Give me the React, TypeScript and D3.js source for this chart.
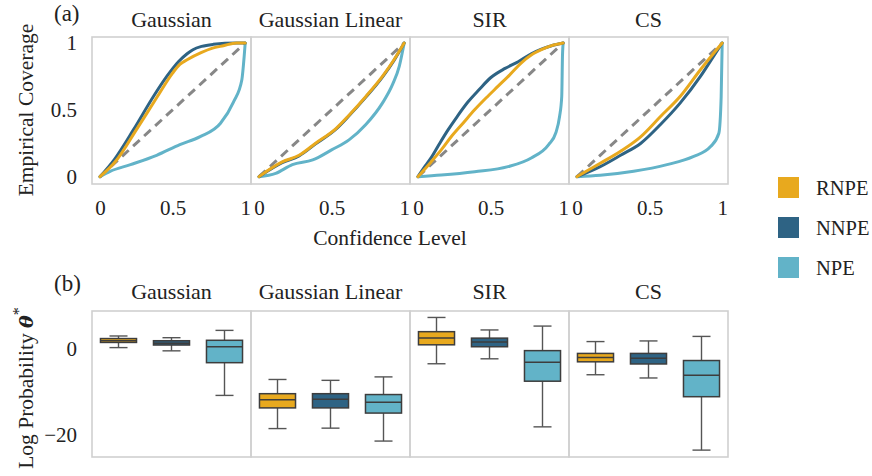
import React, { useEffect, useRef } from 'react';
import * as d3 from 'd3';

const panels = ['Gaussian', 'Gaussian Linear', 'SIR', 'CS'];
const methods = ['RNPE', 'NNPE', 'NPE'];
const methodColors = ['#E8A91E', '#2E6384', '#62B3C8'];

// coverage curves: [confidence level, empirical coverage]
const gaussianRNPE = [[0, 0], [0.115, 0.125], [0.25, 0.35], [0.39, 0.59], [0.5, 0.775], [0.55, 0.84], [0.6, 0.875], [0.7, 0.93], [0.77, 0.96], [0.85, 0.98], [0.94, 1], [1, 1]];
const gaussianNNPE = [[0, 0], [0.1, 0.13], [0.23, 0.35], [0.368, 0.6], [0.46, 0.75], [0.54, 0.86], [0.6, 0.92], [0.64, 0.95], [0.7, 0.975], [0.78, 0.99], [0.94, 1], [1, 1]];
const gaussianNPE = [[0, 0], [0.07, 0.04], [0.21, 0.09], [0.39, 0.16], [0.55, 0.24], [0.69, 0.3], [0.83, 0.4], [0.92, 0.56], [0.977, 0.725], [0.993, 0.9], [1, 1]];

const linearRNPE = [[0, 0], [0.16, 0.11], [0.276, 0.16], [0.39, 0.25], [0.53, 0.36], [0.62, 0.46], [0.736, 0.6], [0.85, 0.75], [0.93, 0.875], [1, 1]];
const linearNNPE = [[0, 0], [0.16, 0.105], [0.276, 0.155], [0.39, 0.245], [0.53, 0.355], [0.62, 0.455], [0.736, 0.595], [0.85, 0.745], [0.93, 0.87], [1, 1]];
const linearNPE = [[0, 0], [0.115, 0.025], [0.23, 0.09], [0.37, 0.125], [0.5, 0.2], [0.62, 0.275], [0.736, 0.39], [0.85, 0.55], [0.92, 0.69], [0.966, 0.825], [1, 1]];

const sirRNPE = [[0, 0], [0.09, 0.11], [0.16, 0.2], [0.23, 0.3], [0.31, 0.4], [0.39, 0.5], [0.47, 0.59], [0.55, 0.675], [0.63, 0.76], [0.71, 0.85], [0.78, 0.91], [0.85, 0.95], [0.92, 0.98], [1, 1]];
const sirNNPE = [[0, 0], [0.05, 0.08], [0.09, 0.14], [0.15, 0.25], [0.207, 0.35], [0.27, 0.45], [0.345, 0.56], [0.42, 0.65], [0.5, 0.74], [0.6, 0.81], [0.69, 0.86], [0.78, 0.92], [0.85, 0.955], [0.92, 0.98], [1, 1]];
const sirNPE = [[0, 0], [0.16, 0.0125], [0.39, 0.0375], [0.62, 0.075], [0.78, 0.14], [0.9, 0.24], [0.95, 0.33], [0.975, 0.45], [0.99, 0.6], [0.995, 0.9], [1, 1]];

const csRNPE = [[0, 0], [0.16, 0.1], [0.3, 0.19], [0.44, 0.3], [0.575, 0.45], [0.71, 0.6], [0.85, 0.8], [1, 1]];
const csNNPE = [[0, 0], [0.16, 0.075], [0.3, 0.16], [0.44, 0.25], [0.575, 0.39], [0.71, 0.55], [0.85, 0.75], [0.94, 0.9], [1, 1]];
const csNPE = [[0, 0], [0.16, 0.01], [0.39, 0.04], [0.62, 0.09], [0.8, 0.15], [0.92, 0.225], [0.977, 0.325], [0.993, 0.6], [1, 1]];

const coverage = [
  [gaussianRNPE, gaussianNNPE, gaussianNPE],
  [linearRNPE, linearNNPE, linearNPE],
  [sirRNPE, sirNNPE, sirNPE],
  [csRNPE, csNNPE, csNPE],
];

// box stats: [whisker low, q1, median, q3, whisker high]
const gaussianBoxes = [[0.2, 1.4, 1.8, 2.3, 2.9], [-0.55, 0.8, 1.2, 1.8, 2.5], [-10.9, -3.3, 0.4, 1.9, 4.2]];
const linearBoxes = [[-18.6, -13.8, -11.9, -10.5, -7.2], [-18.5, -13.8, -11.8, -10.5, -7.4], [-21.5, -15, -12.5, -10.7, -6.6]];
const sirBoxes = [[-3.55, 0.85, 2.45, 3.9, 7.2], [-2.4, 0.4, 1.5, 2.4, 4.3], [-18.2, -7.6, -3.2, -0.5, 5.2]];
const csBoxes = [[-6.1, -3.1, -2.1, -1.15, 1.6], [-6.85, -3.6, -2.3, -1.15, 1.75], [-23.6, -11.2, -6.2, -2.8, 2.8]];
const boxes = [gaussianBoxes, linearBoxes, sirBoxes, csBoxes];

const covTicks = [0, 0.5, 1];
const logTicks = [0, -20];

const FONT = "'Liberation Serif', 'Times New Roman', serif";

export default function App() {
  const svgRef = useRef<SVGSVGElement>(null);

  useEffect(() => {
    if (!svgRef.current) return;
    const svg = d3.select(svgRef.current);
    svg.selectAll('*').remove();

    const panelX = d3.scaleBand().domain(panels).range([92, 728]);
    const pw = panelX.bandwidth();
    const xCov = d3.scaleLinear().domain([-0.055, 1.04]).range([0, pw]);
    const yCov = d3.scaleLinear().domain([-0.055, 1.045]).range([184, 37]);
    const yBox = d3.scaleLinear().domain([-25.2, 8.7]).range([457, 311]);
    const hueX = d3.scaleBand().domain(methods).range([0, pw]);
    const boxW = hueX.bandwidth() * 0.68;

    const line = d3.line<number[]>()
      .x(d => xCov(d[0]))
      .y(d => yCov(d[1]))
      .curve(d3.curveMonotoneX);

    // ---- (a) coverage ----
    panels.forEach((p, i) => {
      const g = svg.append('g').attr('transform', `translate(${panelX(p)},0)`);

      g.append('text')
        .attr('x', pw / 2).attr('y', 27)
        .attr('text-anchor', 'middle')
        .style('font-size', '22px')
        .text(p);

      g.append('path')
        .datum([[0, 0], [1, 1]])
        .attr('d', line)
        .attr('fill', 'none')
        .attr('stroke', '#878787')
        .attr('stroke-width', 3)
        .attr('stroke-dasharray', '9,6');

      [2, 1, 0].forEach(m => {
        g.append('path')
          .datum(coverage[i][m])
          .attr('d', line)
          .attr('fill', 'none')
          .attr('stroke', methodColors[m])
          .attr('stroke-width', 3)
          .attr('stroke-linejoin', 'round')
          .attr('stroke-linecap', 'round');
      });

      g.append('rect')
        .attr('x', 0).attr('y', 37).attr('width', pw).attr('height', 147)
        .attr('fill', 'none').attr('stroke', '#d0d0d0').attr('stroke-width', 1.6);

      const ax = g.append('g')
        .attr('transform', 'translate(0,184)')
        .call(d3.axisBottom(xCov).tickValues(covTicks).tickSize(0).tickPadding(16).tickFormat(d => d3.format('~g')(d as number)));
      ax.select('.domain').remove();
      ax.selectAll('text').style('font-size', '21px').style('font-family', FONT).attr('fill', '#222');
    });

    const ya = svg.append('g')
      .attr('transform', 'translate(92,0)')
      .call(d3.axisLeft(yCov).tickValues(covTicks).tickSize(0).tickPadding(15).tickFormat(d => d3.format('~g')(d as number)));
    ya.select('.domain').remove();
    ya.selectAll('text').style('font-size', '21px').style('font-family', FONT).attr('fill', '#222');

    svg.append('text').attr('x', 390).attr('y', 245).attr('text-anchor', 'middle')
      .style('font-size', '21.5px').text('Confidence Level');
    svg.append('text').attr('transform', 'translate(33,110) rotate(-90)').attr('text-anchor', 'middle')
      .style('font-size', '21.5px').text('Empirical Coverage');
    svg.append('text').attr('x', 54).attr('y', 21).style('font-size', '23px').text('(a)');

    // ---- (b) log probability ----
    panels.forEach((p, i) => {
      const g = svg.append('g').attr('transform', `translate(${panelX(p)},0)`);

      g.append('text')
        .attr('x', pw / 2).attr('y', 299)
        .attr('text-anchor', 'middle')
        .style('font-size', '22px')
        .text(p);

      methods.forEach((m, j) => {
        const [lo, q1, med, q3, hi] = boxes[i][j];
        const cx = (hueX(m) || 0) + hueX.bandwidth() / 2;
        const b = g.append('g');
        b.append('line').attr('x1', cx).attr('x2', cx).attr('y1', yBox(hi)).attr('y2', yBox(q3))
          .attr('stroke', '#555').attr('stroke-width', 1.4);
        b.append('line').attr('x1', cx).attr('x2', cx).attr('y1', yBox(q1)).attr('y2', yBox(lo))
          .attr('stroke', '#555').attr('stroke-width', 1.4);
        [lo, hi].forEach(v => {
          b.append('line').attr('x1', cx - boxW / 4).attr('x2', cx + boxW / 4)
            .attr('y1', yBox(v)).attr('y2', yBox(v))
            .attr('stroke', '#555').attr('stroke-width', 1.4);
        });
        b.append('rect')
          .attr('x', cx - boxW / 2).attr('width', boxW)
          .attr('y', yBox(q3)).attr('height', yBox(q1) - yBox(q3))
          .attr('fill', methodColors[j]).attr('stroke', '#3d3d3d').attr('stroke-width', 1.5);
        b.append('line').attr('x1', cx - boxW / 2).attr('x2', cx + boxW / 2)
          .attr('y1', yBox(med)).attr('y2', yBox(med))
          .attr('stroke', '#3d3d3d').attr('stroke-width', 1.5);
      });

      g.append('rect')
        .attr('x', 0).attr('y', 311).attr('width', pw).attr('height', 146)
        .attr('fill', 'none').attr('stroke', '#d0d0d0').attr('stroke-width', 1.6);
    });

    const yb = svg.append('g')
      .attr('transform', 'translate(92,0)')
      .call(d3.axisLeft(yBox).tickValues(logTicks).tickSize(0).tickPadding(15));
    yb.select('.domain').remove();
    yb.selectAll('text').style('font-size', '21px').style('font-family', FONT).attr('fill', '#222');

    const yl = svg.append('text').attr('transform', 'translate(33,388) rotate(-90)').attr('text-anchor', 'middle')
      .style('font-size', '21.5px');
    yl.append('tspan').text('Log Probability ');
    yl.append('tspan').style('font-style', 'italic').style('font-weight', 'bold').style('font-family', "'DejaVu Serif', serif").style('font-size', '19px').text('θ');
    yl.append('tspan').attr('dy', -9).style('font-size', '16px').text('*');

    svg.append('text').attr('x', 54).attr('y', 291).style('font-size', '23px').text('(b)');

    // ---- legend ----
    methods.forEach((m, j) => {
      svg.append('rect').attr('x', 778).attr('y', 177 + j * 40).attr('width', 21).attr('height', 21)
        .attr('fill', methodColors[j]);
      svg.append('text').attr('x', 816).attr('y', 195 + j * 40)
        .style('font-size', '20.5px').text(m);
    });
  }, []);

  return (
    <svg
      ref={svgRef}
      width={872}
      height={476}
      style={{ position: 'absolute', left: 0, top: 0, background: '#fff', fontFamily: FONT, fill: '#222' }}
    />
  );
}
